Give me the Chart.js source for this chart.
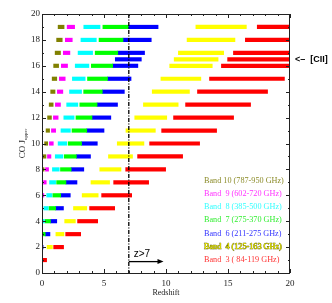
<!DOCTYPE html>
<html>
<head>
<meta charset="utf-8">
<script src="https://cdn.jsdelivr.net/npm/chart.js@4/dist/chart.umd.min.js"></script>
<style>
html,body{margin:0;padding:0;background:#fff;}
#wrap{width:332px;height:303px;position:relative;}
</style>
</head>
<body>
<div id="wrap"><canvas id="c"></canvas></div>
<script>
// CO J_upper rows
const jUpper = [1,2,3,4,5,6,7,8,9,10,11,12,13,14,15,16,17,18,19];
// redshift ranges [zmin, zmax] per J_upper (null = band not reached)
const band10 = [null,null,null,null,null,null,[-0.15,0.02],[-0.03,0.17],[0.09,0.32],[0.21,0.46],[0.33,0.61],[0.45,0.76],[0.58,0.90],[0.70,1.05],[0.82,1.19],[0.94,1.34],[1.06,1.49],[1.18,1.63],[1.30,1.78]];
const band9 = [null,null,null,null,null,[-0.04,0.15],[0.12,0.34],[0.28,0.53],[0.44,0.72],[0.60,0.91],[0.76,1.10],[0.92,1.30],[1.08,1.49],[1.24,1.68],[1.40,1.87],[1.56,2.06],[1.72,2.25],[1.88,2.44],[2.03,2.63]];
const band8 = [null,null,null,[-0.08,0.20],[0.15,0.50],[0.38,0.80],[0.61,1.10],[0.84,1.39],[1.07,1.69],[1.30,1.99],[1.53,2.29],[1.76,2.59],[1.99,2.89],[2.22,3.19],[2.45,3.48],[2.68,3.78],[2.91,4.08],[3.14,4.38],[3.37,4.68]];
const band7 = [null,null,[-0.07,0.26],[0.25,0.68],[0.56,1.10],[0.87,1.51],[1.18,1.93],[1.49,2.35],[1.80,2.77],[2.11,3.19],[2.42,3.61],[2.74,4.03],[3.05,4.44],[3.36,4.86],[3.67,5.28],[3.98,5.70],[4.29,6.11],[4.60,6.53],[4.91,6.95]];
const band6 = [null,[-0.16,0.09],[0.26,0.64],[0.68,1.19],[1.10,1.73],[1.51,2.28],[1.93,2.82],[2.35,3.37],[2.77,3.91],[3.19,4.46],[3.61,5.00],[4.03,5.55],[4.44,6.09],[4.86,6.64],[5.28,7.18],[5.70,7.73],[6.11,8.27],[6.53,8.81],[6.95,9.36]];
const band4 = [null,[0.41,0.84],[1.12,1.77],[1.83,2.69],[2.54,3.61],[3.24,4.53],[3.95,5.45],[4.66,6.37],[5.36,7.30],[6.07,8.22],[6.77,9.14],[7.48,10.06],[8.18,10.98],[8.89,11.89],[9.59,12.81],[10.30,13.73],[11.00,14.65],[11.70,15.56],[12.41,16.48]];
const band3 = [[-0.03,0.37],[0.94,1.74],[1.91,3.12],[2.87,4.49],[3.84,5.86],[4.81,7.23],[5.78,8.60],[6.75,9.97],[7.71,11.34],[8.68,12.71],[9.65,14.08],[10.61,15.45],[11.58,16.82],[12.54,18.19],[13.51,19.55],[14.47,20.92],[15.44,22.29],[16.40,23.65],[17.36,25.01]];
// [CII] row
const ciiRow = 16.5;
const ciiBand6 = [5.91, 8.01];
const ciiBand4 = [10.66, 14.20];
const ciiBand3 = [14.97, 21.63];
// legend
const legendLabels = ['Band 10 (787-950 GHz)','Band  9 (602-720 GHz)','Band  8 (385-500 GHz)','Band  7 (275-370 GHz)','Band  6 (211-275 GHz)','Band  4 (125-163 GHz)','Band  3 ( 84-119 GHz)'];
const bandColors = ['#808000','#ff00ff','#00ffff','#00ff00','#0000ff','#ffff00','#ff0000'];
const textColors = ['#8c8c2a','#ff33ff','#33ffff','#33ee33','#3333ff','#ffff00','#ff3333'];
const xTicks = [0,5,10,15,20];
const yTicks = [0,2,4,6,8,10,12,14,16,18,20];
const zCut = 7;

function rows(arr, cii){
  const out = [];
  jUpper.forEach((j,i)=>{ if(arr[i]) out.push({y:j, x:arr[i]}); });
  if(cii) out.push({y:ciiRow, x:cii});
  return out;
}
const bandData = [rows(band10), rows(band9), rows(band8), rows(band7), rows(band6, ciiBand6), rows(band4, ciiBand4), rows(band3, ciiBand3)];

const overlay = {
  id:'overlay',
  afterDatasetsDraw(chart){
    const {ctx, chartArea:{left,right,top,bottom}, scales:{x,y}} = chart;
    ctx.save();
    // dash-dot line at z=7
    const px7 = x.getPixelForValue(zCut);
    ctx.strokeStyle='#000'; ctx.lineWidth=1.3;
    ctx.setLineDash([4,1.5,1,1.5]);
    ctx.beginPath(); ctx.moveTo(px7, top); ctx.lineTo(px7, bottom); ctx.stroke();
    ctx.setLineDash([]);
    // arrow z>7
    const ay = y.getPixelForValue(0.88);
    const ax2 = x.getPixelForValue(9.8);
    ctx.lineWidth=1.3;
    ctx.beginPath(); ctx.moveTo(px7, ay); ctx.lineTo(ax2-4, ay); ctx.stroke();
    ctx.fillStyle='#000';
    ctx.beginPath(); ctx.moveTo(ax2, ay); ctx.lineTo(ax2-6, ay-2.5); ctx.lineTo(ax2-6, ay+2.5); ctx.closePath(); ctx.fill();
    ctx.font='10px "Liberation Sans", Arial, sans-serif';
    ctx.textBaseline='middle'; ctx.textAlign='left';
    ctx.fillText('z>7', x.getPixelForValue(7.4), y.getPixelForValue(1.45));
    // frame
    ctx.strokeStyle='#222'; ctx.lineWidth=1;
    ctx.strokeRect(Math.round(left)+0.5, Math.round(top)+0.5, Math.round(right-left)-1, Math.round(bottom-top));
    // ticks
    ctx.beginPath();
    for(let v=0; v<=20; v++){
      const p = Math.round(x.getPixelForValue(v))+0.5;
      const len = v%5===0 ? 4 : 2;
      ctx.moveTo(p, bottom); ctx.lineTo(p, bottom-len);
      ctx.moveTo(p, top); ctx.lineTo(p, top+len);
    }
    for(let v=0; v<=20; v++){
      const p = Math.round(y.getPixelForValue(v))+0.5;
      const len = v%2===0 ? 4 : 2;
      ctx.moveTo(left, p); ctx.lineTo(left+len, p);
      ctx.moveTo(right, p); ctx.lineTo(right-len, p);
    }
    ctx.stroke();
    // [CII] label
    ctx.fillStyle='#000';
    ctx.font='bold 9px "Liberation Sans", Arial, sans-serif';
    ctx.fillText('<–  [CII]', right+5, y.getPixelForValue(ciiRow));
    // legend
    ctx.font='8.2px "Liberation Serif", "Times New Roman", serif';
    legendLabels.forEach((t,i)=>{
      const ly = 180.7 + 13.2*i;
      if(i===5){
        ctx.strokeStyle='#55550a'; ctx.lineWidth=0.7; ctx.lineJoin='round';
        ctx.strokeText(t, 204, ly);
      }
      ctx.fillStyle = textColors[i];
      ctx.fillText(t, 204, ly);
    });
    // x title
    ctx.fillStyle='#222';
    ctx.textAlign='center';
    ctx.font='8px "Liberation Serif", "Times New Roman", serif';
    ctx.fillText('Redshift', (left+right)/2, 293);
    // y title with subscript
    ctx.save();
    ctx.translate(23, (top+bottom)/2);
    ctx.rotate(-Math.PI/2);
    ctx.textAlign='left';
    ctx.font='9px "Liberation Serif", "Times New Roman", serif';
    const w1 = ctx.measureText('CO J').width;
    ctx.font='5px "Liberation Serif", "Times New Roman", serif';
    const w2 = ctx.measureText('upper').width;
    const sx = -(w1+w2)/2;
    ctx.font='9px "Liberation Serif", "Times New Roman", serif';
    ctx.fillText('CO J', sx, 0);
    ctx.font='5px "Liberation Serif", "Times New Roman", serif';
    ctx.fillText('upper', sx+w1, 3);
    ctx.restore();
    ctx.restore();
  }
};

new Chart(document.getElementById('c'), {
  type:'bar',
  data:{
    datasets: bandData.map((d,i)=>({
      label: legendLabels[i],
      data: d,
      backgroundColor: bandColors[i],
      borderWidth: 0,
      grouped: false,
      barThickness: 3.5,
      maxBarThickness: 3.5,
      clip: 0
    }))
  },
  options:{
    indexAxis:'y',
    responsive:true,
    maintainAspectRatio:false,
    animation:false,
    layout:{padding:{left:0,right:42,top:14,bottom:0}},
    plugins:{legend:{display:false}, tooltip:{enabled:false}},
    scales:{
      x:{
        type:'linear', min:0, max:20, position:'bottom',
        grid:{display:false, drawTicks:false}, border:{display:false},
        afterBuildTicks(s){ s.ticks = xTicks.map(v=>({value:v})); },
        ticks:{font:{family:'"Liberation Serif", "Times New Roman", serif', size:9}, color:'#222', padding:5, maxRotation:0},
        afterFit(s){ s.height = 30; }
      },
      y:{
        type:'linear', min:0, max:20, offset:false,
        grid:{display:false, offset:false, drawTicks:false}, border:{display:false},
        afterBuildTicks(s){ s.ticks = yTicks.map(v=>({value:v})); },
        ticks:{font:{family:'"Liberation Serif", "Times New Roman", serif', size:9}, color:'#222', padding:2},
        afterFit(s){ s.width = 42; }
      }
    }
  },
  plugins:[overlay]
});
</script>
</body>
</html>
